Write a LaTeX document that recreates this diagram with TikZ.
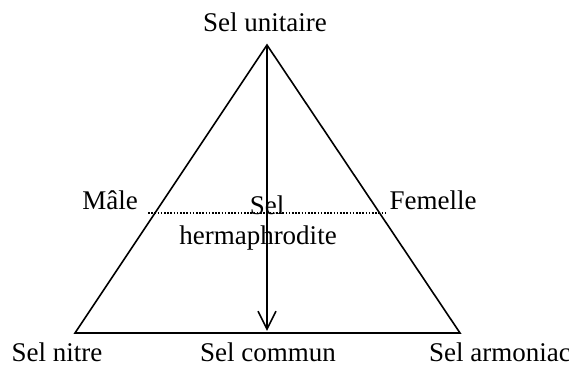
\documentclass[tikz,border=0pt]{standalone}
\usepackage{fontspec}
\setmainfont{Liberation Serif}
\usetikzlibrary{arrows.meta}
\begin{document}
\begin{tikzpicture}[
x=0.5pt, y=-0.5pt,
every node/.style={inner sep=0pt, anchor=base, font=\fontsize{13.5}{16}\selectfont},
edge/.style={line width=0.8pt}
]
\useasboundingbox (0,0) rectangle (569,367);
\coordinate (1) at (267,45);
\coordinate (2) at (75,333);
\coordinate (3) at (460,333);
\coordinate (4) at (267,333);
\coordinate (5) at (148,213);
\coordinate (6) at (385,213);

\node (u) at (265,32) {Sel unitaire};
\node (m) at (110,210) {Mâle};
\node (f) at (433,210) {Femelle};
\node (s) at (267,215) {Sel};
\node (h) at (258,245) {hermaphrodite};
\node (n) at (57,362) {Sel nitre};
\node (c) at (268,362) {Sel commun};
\node (a) at (500,362) {Sel armoniac};

\draw[edge] (1) -- (2) -- (3) -- cycle;
\draw[line width=1pt, dash pattern=on 0.8pt off 0.8pt] (5) -- (6);
\draw[edge, -{Straight Barb[length=9pt, width=9pt]}] (1) -- ([yshift=1pt]4);
\end{tikzpicture}
\end{document}
